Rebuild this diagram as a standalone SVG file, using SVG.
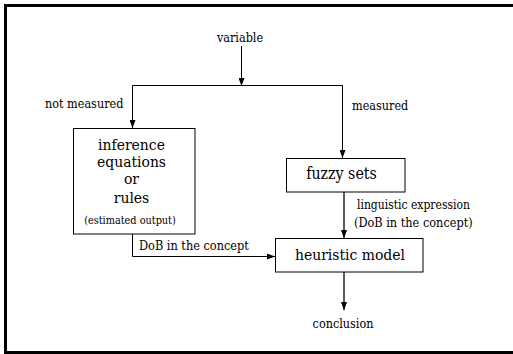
<svg xmlns="http://www.w3.org/2000/svg" width="513" height="354" viewBox="0 0 513 354">
  <style>
    text { font-family: 'DejaVu Serif Condensed', 'DejaVu Serif', serif; font-stretch: condensed; fill: #000; }
    .box { fill: #ffffff; stroke: #000000; stroke-width: 1; }
    .big { font-size: 15.5px; text-anchor: middle; }
    .lbl { font-size: 12.5px; }
    .sm { font-size: 12.6px; }
    .wire { fill: none; stroke: #000; stroke-width: 1; }
    .wire2 { fill: none; stroke: #333; stroke-width: 1.6; }
  </style>
  <defs>
    <marker id="arrow" viewBox="0 0 8 6" refX="8" refY="3" markerWidth="8" markerHeight="6" markerUnits="userSpaceOnUse" orient="auto">
      <path d="M0,0 L8,3 L0,6 Z" fill="#000"/>
    </marker>
  </defs>

  <rect x="0" y="0" width="513" height="354" fill="#ffffff"/>
  <!-- frame -->
  <path d="M5.5,354 V5.5 H513" fill="none" stroke="#000" stroke-width="3"/>
  <line x1="4" y1="352.5" x2="513" y2="352.5" stroke="#000" stroke-width="3"/>

  <!-- connectors -->
  <g id="connectors">
    <line class="wire" x1="241.5" y1="46" x2="241.5" y2="86" marker-end="url(#arrow)"/>
    <path class="wire" d="M342.5,85.5 H132.5 V128" marker-end="url(#arrow)"/>
    <path class="wire" d="M241.5,85.5 H342.5 V158" marker-end="url(#arrow)"/>
    <path class="wire" d="M132.5,234 V256.5 H275" marker-end="url(#arrow)"/>
    <line class="wire2" x1="344" y1="192" x2="344" y2="238" marker-end="url(#arrow)"/>
    <line class="wire2" x1="344" y1="272" x2="344" y2="310" marker-end="url(#arrow)"/>
    <text class="lbl" x="240" y="42" text-anchor="middle">variable</text>
    <text class="lbl" x="45" y="108">not measured</text>
    <text class="lbl" x="352" y="110">measured</text>
    <text class="sm" x="139" y="250">DoB in the concept</text>
    <text class="sm" x="357" y="209" style="font-size:12px">linguistic expression</text>
    <text class="sm" x="354" y="227">(DoB in the concept)</text>
    <text class="lbl" x="343" y="328" text-anchor="middle">conclusion</text>
  </g>

  <g id="inference">
    <rect class="box" x="73.5" y="128.5" width="121.5" height="105.5"/>
    <text class="big" x="131.5" y="149.5">inference</text>
    <text class="big" x="131.5" y="166.5">equations</text>
    <text class="big" x="131.5" y="184">or</text>
    <text class="big" x="131.5" y="202.5">rules</text>
    <text class="sm" x="130" y="224" text-anchor="middle" style="font-size:10.8px">(estimated output)</text>
  </g>

  <g id="fuzzy-sets">
    <rect class="box" x="286.5" y="158.5" width="118.5" height="33.5"/>
    <text class="big" x="341.5" y="179" style="font-size:15.8px">fuzzy sets</text>
  </g>

  <g id="heuristic-model">
    <rect class="box" x="275.5" y="238.5" width="147.5" height="33.5"/>
    <text class="big" x="350" y="260">heuristic model</text>
  </g>
</svg>
